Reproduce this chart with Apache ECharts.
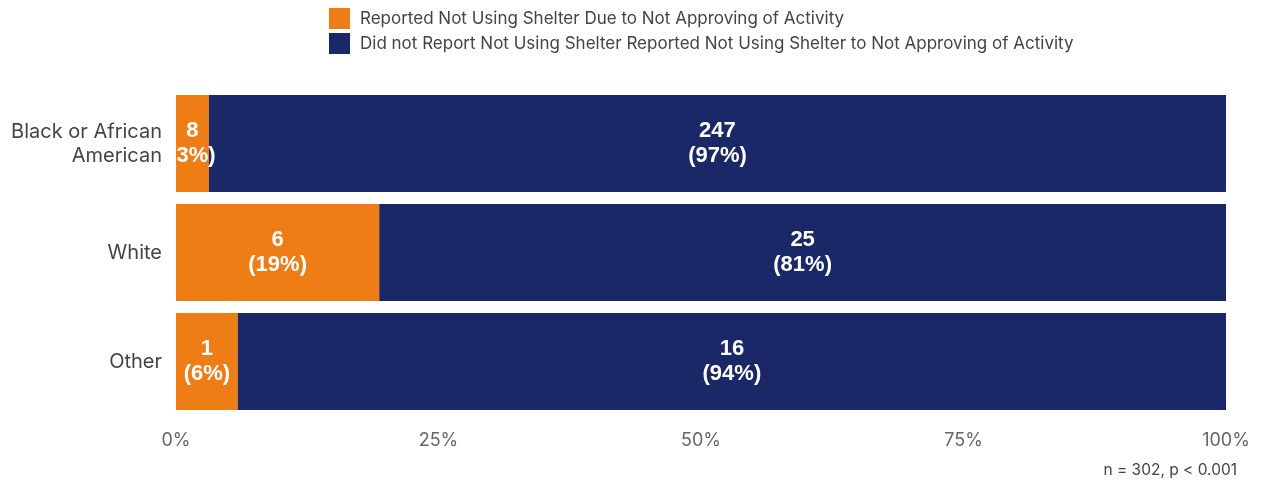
<!DOCTYPE html>
<html>
<head>
<meta charset="utf-8">
<script src="https://cdn.jsdelivr.net/npm/echarts@6/dist/echarts.min.js"></script>
<style>
  html, body { margin: 0; padding: 0; background: #ffffff; }
  #chart { width: 1262px; height: 485px; }
</style>
</head>
<body>
<div id="chart"></div>
<script>
// Groups shown on the vertical axis (top to bottom)
const categories = ['Black or African\nAmerican', 'White', 'Other'];
// Respondents who reported not using shelter due to not approving of activity
const reportedCounts = [8, 6, 1];
// Respondents who did not report that reason
const notReportedCounts = [247, 25, 16];
const seriesNames = [
  'Reported Not Using Shelter Due to Not Approving of Activity',
  'Did not Report Not Using Shelter Reported Not Using Shelter to Not Approving of Activity'
];
const xTickValues = [0, 25, 50, 75, 100];
const footnote = 'n = 302, p < 0.001';

const ORANGE = '#EF7D16';
const NAVY = '#1A2867';

// Share of each group's total, in percent
const totals = reportedCounts.map((v, i) => v + notReportedCounts[i]);
const reportedShare = reportedCounts.map((v, i) => v / totals[i] * 100);
const notReportedShare = notReportedCounts.map((v, i) => v / totals[i] * 100);

function makeData(counts, shares) {
  return shares.map((s, i) => ({ value: s, count: counts[i] }));
}

const labelStyle = {
  show: true,
  position: 'inside',
  color: '#ffffff',
  fontFamily: 'Liberation Sans, Arial, sans-serif',
  fontWeight: 'bold',
  fontSize: 22,
  lineHeight: 25,
  formatter: p => p.data.count + '\n(' + Math.round(p.value) + '%)'
};

const chart = echarts.init(document.getElementById('chart'), null, { renderer: 'canvas' });
chart.setOption({
  animation: false,
  backgroundColor: '#ffffff',
  legend: {
    orient: 'vertical',
    left: 329,
    top: 8,
    padding: 0,
    itemWidth: 21,
    itemHeight: 21,
    itemGap: 4,
    icon: 'rect',
    selectedMode: false,
    textStyle: { color: '#444444', fontSize: 17, fontFamily: 'Inter, Noto Sans, sans-serif', padding: [0, 0, 0, 5] },
    data: seriesNames
  },
  grid: { left: 176, right: 36, top: 89, bottom: 69, containLabel: false },
  xAxis: {
    type: 'value',
    min: 0,
    max: 100,
    interval: 25,
    axisLine: { show: false },
    axisTick: { show: false },
    splitLine: { show: false },
    axisLabel: {
      color: '#666666',
      fontSize: 18,
      fontFamily: 'Inter, Noto Sans, sans-serif',
      margin: 16,
      formatter: v => xTickValues.includes(v) ? v + '%' : ''
    }
  },
  yAxis: {
    type: 'category',
    inverse: true,
    data: categories,
    axisLine: { show: false },
    axisTick: { show: false },
    axisLabel: {
      color: '#444444',
      fontSize: 20,
      lineHeight: 24,
      fontFamily: 'Inter, Noto Sans, sans-serif',
      margin: 14,
      align: 'right'
    }
  },
  series: [
    {
      name: seriesNames[0],
      type: 'bar',
      stack: 'total',
      barCategoryGap: '11%',
      itemStyle: { color: ORANGE },
      label: labelStyle,
      data: makeData(reportedCounts, reportedShare)
    },
    {
      name: seriesNames[1],
      type: 'bar',
      stack: 'total',
      barCategoryGap: '11%',
      itemStyle: { color: NAVY },
      label: labelStyle,
      data: makeData(notReportedCounts, notReportedShare)
    }
  ],
  graphic: [
    {
      // keep bar labels inside the plot's left edge
      type: 'rect',
      z: 100,
      shape: { x: 164, y: 95, width: 12, height: 97 },
      style: { fill: '#ffffff' }
    },
    {
      type: 'text',
      right: 25,
      top: 462,
      style: {
        text: footnote,
        fill: '#444444',
        fontSize: 15.5,
        fontFamily: 'Inter, Noto Sans, sans-serif'
      }
    }
  ]
});
</script>
</body>
</html>
